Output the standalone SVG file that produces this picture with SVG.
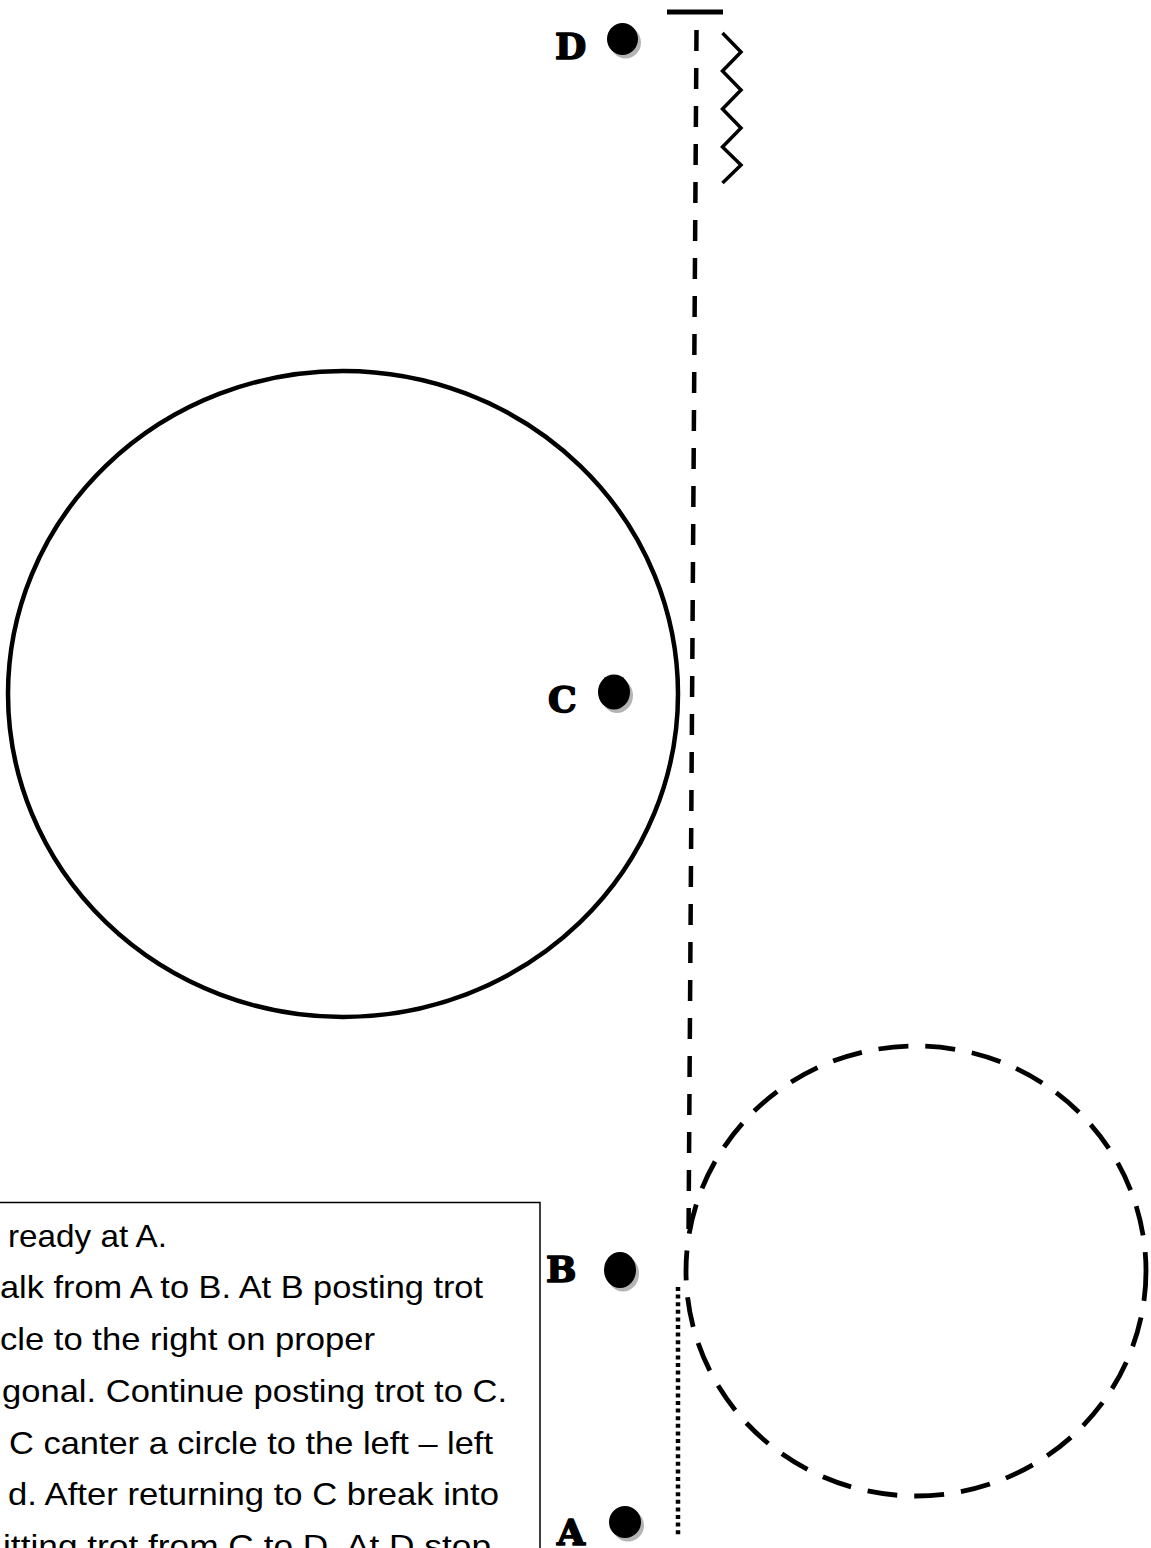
<svg xmlns="http://www.w3.org/2000/svg" width="1151" height="1548" viewBox="0 0 1151 1548">
<style>
.lbl{font-family:"DejaVu Serif","Liberation Serif",serif;font-weight:bold;font-size:36px;fill:#000;stroke:#000;stroke-width:1.6;stroke-linejoin:round}
.txt{font-family:"Liberation Sans",Arial,sans-serif;font-size:32px;fill:#000}
.dot{fill:#000}
.sh{fill:#b4b4b4}
</style>
<rect width="1151" height="1548" fill="#fff"/>
<g id="connectors" fill="none" stroke="#000">
  <line x1="667" y1="12" x2="723" y2="12" stroke-width="5"/>
  <line x1="696.5" y1="30" x2="688.5" y2="1238" stroke-width="4.5" stroke-dasharray="21 17"/>
  <polyline points="722.5,33 741,52 722.5,71 741,90 722.5,109 741,128 722.5,147 741,165 722.5,183" stroke-width="3.5"/>
  <line x1="678" y1="1287" x2="678" y2="1536" stroke-width="4.5" stroke-dasharray="4 3.6"/>
  <ellipse cx="343" cy="694" rx="335" ry="323" stroke-width="4.5"/>
  <ellipse cx="916" cy="1271" rx="230" ry="225" stroke-width="4.8" stroke-dasharray="30 17"/>
</g>
<g id="node-D">
  <text class="lbl" x="555" y="59">D</text>
  <ellipse class="sh" cx="625.5" cy="42.5" rx="15.5" ry="16"/>
  <ellipse class="dot" cx="622.5" cy="39" rx="15.5" ry="16"/>
</g>
<g id="node-C">
  <text class="lbl" x="548" y="712">C</text>
  <ellipse class="sh" cx="617" cy="695.5" rx="16" ry="17.5"/>
  <ellipse class="dot" cx="614" cy="692" rx="16" ry="17.5"/>
</g>
<g id="node-B">
  <text class="lbl" x="546" y="1282">B</text>
  <ellipse class="sh" cx="623" cy="1273.5" rx="16" ry="18"/>
  <ellipse class="dot" cx="620" cy="1270" rx="16" ry="18"/>
</g>
<g id="node-A">
  <text class="lbl" x="557" y="1545">A</text>
  <ellipse class="sh" cx="628" cy="1525.5" rx="16" ry="16"/>
  <ellipse class="dot" cx="625" cy="1522" rx="16" ry="16"/>
</g>
<g id="textbox">
  <rect x="-2" y="1202.5" width="542" height="360" fill="none" stroke="#000" stroke-width="1.5"/>
  <text class="txt" x="8" y="1247" textLength="159" lengthAdjust="spacingAndGlyphs">ready at A.</text>
  <text class="txt" x="0" y="1298" textLength="483" lengthAdjust="spacingAndGlyphs">alk from A to B. At B posting trot</text>
  <text class="txt" x="0" y="1350" textLength="375" lengthAdjust="spacingAndGlyphs">cle to the right on proper</text>
  <text class="txt" x="2" y="1402" textLength="505" lengthAdjust="spacingAndGlyphs">gonal. Continue posting trot to C.</text>
  <text class="txt" x="9" y="1454" textLength="484" lengthAdjust="spacingAndGlyphs">C canter a  circle to the left – left</text>
  <text class="txt" x="8" y="1505" textLength="491" lengthAdjust="spacingAndGlyphs">d. After returning to C break into</text>
  <text class="txt" x="3" y="1557" textLength="488" lengthAdjust="spacingAndGlyphs">itting trot from C to D. At D stop</text>
</g>
</svg>
